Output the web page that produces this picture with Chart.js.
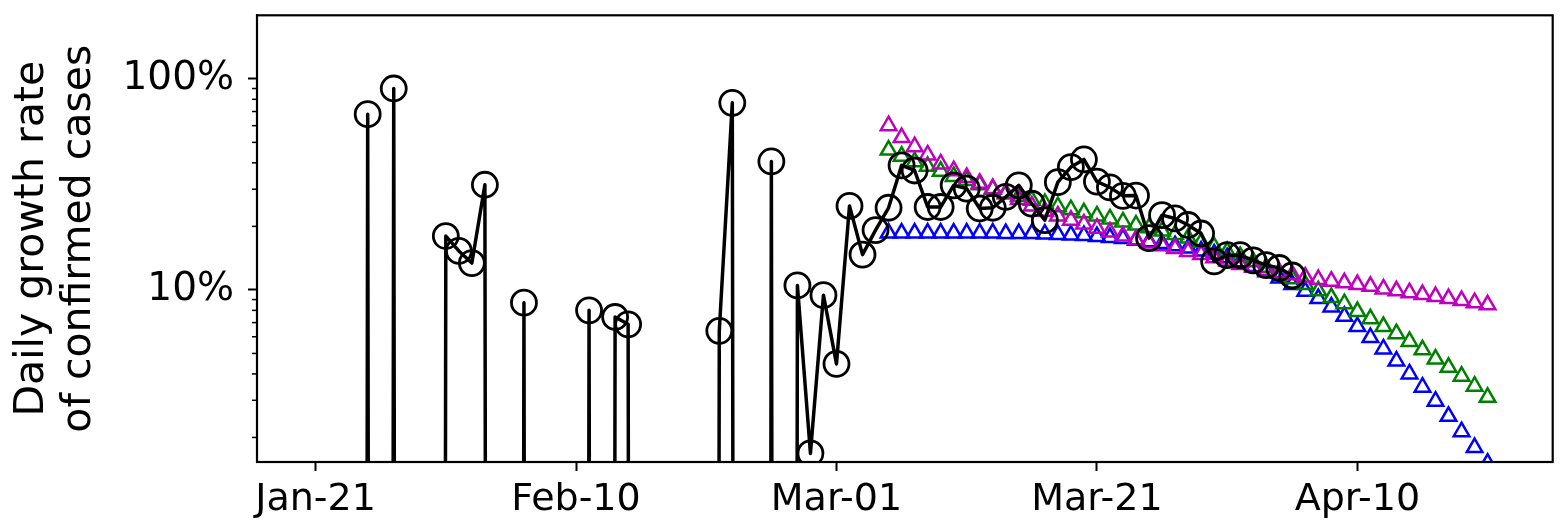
<!DOCTYPE html>
<html>
<head>
<meta charset="utf-8">
<script src="https://cdn.jsdelivr.net/npm/chart.js@4"></script>
<style>
  html, body { margin: 0; padding: 0; background: #fff; }
  #wrap { width: 1568px; height: 530px; }
</style>
</head>
<body>
<div id="wrap"><canvas id="plots"></canvas></div>
<script>
// days counted from Jan-21
const tickDays = [0, 20, 40, 60, 80]
const tickLabels = ['Jan-21', 'Feb-10', 'Mar-01', 'Mar-21', 'Apr-10']

// observed daily growth rate, Jan-21 .. Apr-05 (0 = no growth that day)
const observed = [
  0, 0, 0, 0, 0.68, 0, 0.90, 0, 0, 0,
  0.18, 0.153, 0.134, 0.315, 0, 0, 0.087, 0, 0, 0,
  0, 0.080, 0, 0.0744, 0.0687, 0, 0, 0, 0, 0,
  0, 0.064, 0.77, 0, 0, 0.406, 0, 0.105, 0.0168, 0.0944,
  0.0446, 0.25, 0.147, 0.192, 0.245, 0.389, 0.368, 0.247, 0.247, 0.313,
  0.302, 0.243, 0.245, 0.276, 0.313, 0.256, 0.214, 0.324, 0.382, 0.415,
  0.326, 0.306, 0.279, 0.28, 0.176, 0.226, 0.218, 0.203, 0.185, 0.1365,
  0.146, 0.146, 0.138, 0.131, 0.127, 0.117
]

// model curves, Mar-05 (day 44) .. Apr-20 (day 90)
const modelStart = 44
const magentaModel = [
  0.60, 0.527, 0.477, 0.436, 0.395, 0.367, 0.341, 0.32, 0.302, 0.285,
  0.268, 0.25, 0.236, 0.224, 0.214, 0.205, 0.196, 0.188, 0.180, 0.173,
  0.167, 0.162, 0.157, 0.152, 0.147, 0.142, 0.137, 0.132, 0.128, 0.124,
  0.121, 0.118, 0.115, 0.112, 0.110, 0.108, 0.106, 0.104, 0.101, 0.099,
  0.097, 0.095, 0.093, 0.091, 0.089, 0.087, 0.085
]
const greenModel = [
  0.46, 0.43, 0.405, 0.385, 0.365, 0.345, 0.33, 0.315, 0.30, 0.288,
  0.277, 0.266, 0.257, 0.248, 0.24, 0.232, 0.224, 0.217, 0.210, 0.203,
  0.197, 0.190, 0.183, 0.176, 0.168, 0.160, 0.152, 0.144, 0.136, 0.128,
  0.120, 0.113, 0.106, 0.099, 0.092, 0.086, 0.079, 0.073, 0.067, 0.062,
  0.057, 0.052, 0.047, 0.043, 0.039, 0.035, 0.031
]
const blueModel = [
  0.186, 0.186, 0.186, 0.186, 0.186, 0.186, 0.186, 0.186, 0.186, 0.185,
  0.185, 0.185, 0.184, 0.183, 0.182, 0.181, 0.179, 0.177, 0.175, 0.172,
  0.169, 0.166, 0.162, 0.158, 0.153, 0.148, 0.142, 0.136, 0.129, 0.122,
  0.114, 0.106, 0.0985, 0.091, 0.083, 0.075, 0.067, 0.0595, 0.0525, 0.046,
  0.040, 0.0346, 0.0297, 0.0252, 0.0213, 0.0179, 0.0151
]

// like matplotlib's log clip: zero goes far below the axis
const LOG_FLOOR = 1e-40

function toPoints(values, start) {
  return values.map((v, i) => ({ x: start + i, y: v > 0 ? v : LOG_FLOOR }))
}

const minorTicks = []
;[0.01, 0.1].forEach(dec => {
  for (let k = 2; k <= 9; k++) minorTicks.push(k * dec)
})

const frameAndMinor = {
  id: 'frameAndMinor',
  afterDraw(chart) {
    const ctx = chart.ctx
    const a = chart.chartArea
    const y = chart.scales.y
    ctx.save()
    ctx.strokeStyle = '#000'
    ctx.lineWidth = 1.5
    minorTicks.forEach(v => {
      const py = y.getPixelForValue(v)
      ctx.beginPath()
      ctx.moveTo(a.left - 5, py)
      ctx.lineTo(a.left, py)
      ctx.stroke()
    })
    ctx.lineWidth = 2.2
    ctx.strokeRect(a.left, a.top, a.right - a.left, a.bottom - a.top)
    ctx.restore()
  }
}

const font = 'DejaVu Sans'

function triangleSet(values, color) {
  return {
    data: toPoints(values, modelStart),
    showLine: false,
    pointStyle: 'triangle',
    pointRadius: 9,
    pointBorderWidth: 2.5,
    pointBorderColor: color,
    pointBackgroundColor: 'rgba(0,0,0,0)',
    borderColor: color
  }
}

const plots = document.getElementById('plots')
const chart = new Chart(plots, {
  type: 'line',
  data: {
    datasets: [
      {
        data: toPoints(observed, 0),
        borderColor: '#000',
        borderWidth: 3.5,
        borderJoinStyle: 'round',
        tension: 0,
        pointStyle: 'circle',
        pointRadius: ctx => (ctx.raw && ctx.raw.y > LOG_FLOOR ? 12.5 : 0),
        pointBorderWidth: 2.8,
        pointBorderColor: '#000',
        pointBackgroundColor: 'rgba(0,0,0,0)'
      },
      triangleSet(magentaModel, '#bf00bf'),
      triangleSet(greenModel, '#008000'),
      triangleSet(blueModel, '#0000ff')
    ]
  },
  options: {
    responsive: true,
    maintainAspectRatio: false,
    animation: false,
    events: [],
    layout: { padding: { top: 13, right: 5, left: 0, bottom: 0 } },
    plugins: { legend: { display: false }, tooltip: { enabled: false } },
    scales: {
      x: {
        type: 'linear',
        min: -4.5,
        max: 95,
        afterBuildTicks: scale => { scale.ticks = tickDays.map(v => ({ value: v })) },
        afterFit: scale => {
          scale.height = 68
          scale.paddingLeft = 0
          scale.paddingRight = 0
        },
        border: { color: '#000', width: 2 },
        grid: { drawOnChartArea: false, tickLength: 9, tickWidth: 2, tickColor: '#000' },
        ticks: {
          autoSkip: false,
          maxRotation: 0,
          padding: 6,
          color: '#000',
          font: { family: font, size: 38 },
          callback: v => tickLabels[tickDays.indexOf(v)]
        }
      },
      y: {
        type: 'logarithmic',
        min: 0.0153,
        max: 2.0,
        afterBuildTicks: scale => { scale.ticks = [{ value: 0.1 }, { value: 1 }] },
        afterFit: scale => {
          scale.width = 257
          scale.paddingTop = 0
          scale.paddingBottom = 0
        },
        border: { color: '#000', width: 2 },
        grid: { drawOnChartArea: false, tickLength: 9, tickWidth: 2, tickColor: '#000' },
        ticks: {
          padding: 14,
          color: '#000',
          font: { family: font, size: 39 },
          callback: v => Math.round(v * 100) + '%'
        },
        title: {
          display: true,
          text: ['Daily growth rate', 'of confirmed cases'],
          color: '#000',
          font: { family: font, size: 41, lineHeight: 1.15 },
          padding: { top: 9, bottom: 0 }
        }
      }
    }
  },
  plugins: [frameAndMinor]
})
</script>
</body>
</html>
